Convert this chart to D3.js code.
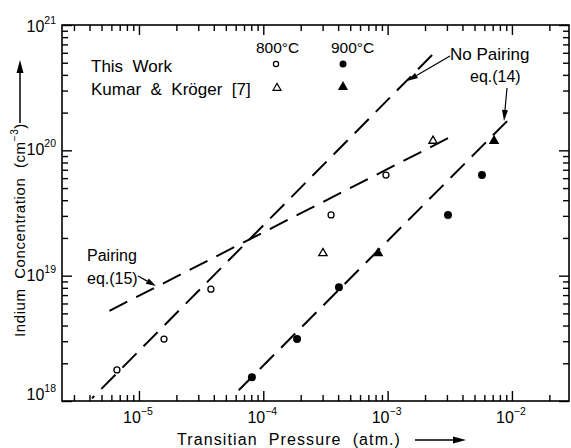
<!DOCTYPE html>
<html><head><meta charset="utf-8">
<script src="https://cdn.jsdelivr.net/npm/d3@7"></script>
<style>
html,body{margin:0;padding:0;background:#fff;}
svg{display:block;font-family:"Liberation Sans","DejaVu Sans",sans-serif;}
</style></head>
<body><svg id="c" width="571" height="448"></svg>
<script>
// ---- data (pressure atm, concentration cm^-3) ----
const thisWork800 = [[6.65e-6,1.77e18],[1.59e-5,3.12e18],[3.79e-5,7.8e18],[3.51e-4,3.05e19],[9.7e-4,6.35e19]];
const thisWork900 = [[8.1e-5,1.55e18],[1.87e-4,3.12e18],[4.06e-4,8.1e18],[3.06e-3,3.05e19],[5.74e-3,6.35e19]];
const kumar800 = [[3.02e-4,1.51e19],[2.32e-3,1.19e20]];
const kumar900 = [[8.38e-4,1.51e19],[7.18e-3,1.19e20]];
const noPairing800 = [[4.19e-6,1.05e18],[2.28e-3,5.76e20]];
const pairing800 = [[5.33e-6,5.03e18],[3.06e-3,1.25e20]];
const noPairing900 = [[6.03e-5,1.16e18],[9.14e-3,1.71e20]];
const xTickExps = [-5,-4,-3,-2];
const yTickExps = [18,19,20,21];
const xDomain = [Math.pow(10,-5.619), Math.pow(10,-1.541)];
const yDomain = [1e18, 1e21];

const svg = d3.select("#c");
const L=62, R=569, T=25, B=401;
const x = d3.scaleLog().domain(xDomain).range([L,R]);
const y = d3.scaleLog().domain(yDomain).range([B,T]);

function minors(domain, lo, hi){
  const out=[];
  for(let e=lo;e<=hi;e++) for(let m=2;m<=9;m++){const v=m*Math.pow(10,e); if(v>=domain[0]&&v<=domain[1]) out.push(v);}
  return out;
}
const xMaj = xTickExps.map(e=>Math.pow(10,e));
const yMaj = yTickExps.map(e=>Math.pow(10,e));
const xMin = minors(xDomain,-6,-2);
const yMin = minors(yDomain,18,20);

const ax = svg.append("g");
function addAxis(gen, vals, size, tr){
  const g = ax.append("g").attr("transform",tr)
    .call(gen.tickValues(vals).tickSize(-size).tickFormat(""));
  g.select(".domain").remove();
  g.selectAll("line").attr("stroke","#000").attr("stroke-width",1.4);
}
addAxis(d3.axisBottom(x), xMaj, 10, `translate(0,${B})`);
addAxis(d3.axisBottom(x), xMin, 6, `translate(0,${B})`);
addAxis(d3.axisTop(x), xMaj, 10, `translate(0,${T})`);
addAxis(d3.axisTop(x), xMin, 6, `translate(0,${T})`);
addAxis(d3.axisLeft(y), yMaj, 10, `translate(${L},0)`);
addAxis(d3.axisLeft(y), yMin, 6, `translate(${L},0)`);
addAxis(d3.axisRight(y), yMaj, 10, `translate(${R},0)`);
addAxis(d3.axisRight(y), yMin, 6, `translate(${R},0)`);

svg.append("rect").attr("x",L).attr("y",T).attr("width",R-L).attr("height",B-T)
  .attr("fill","none").attr("stroke","#000").attr("stroke-width",1.6);

// tick labels
xTickExps.forEach(e=>{
  const t = svg.append("text").attr("x",x(Math.pow(10,e))-1).attr("y",423)
    .attr("text-anchor","middle").attr("font-size",16);
  t.append("tspan").text("10");
  t.append("tspan").attr("font-size",10.5).attr("dy",-8).text("−"+(-e));
});
yTickExps.forEach(e=>{
  const t = svg.append("text").attr("x",56).attr("y",y(Math.pow(10,e))+ (e===18?-1:(e===21?7:5)))
    .attr("text-anchor","end").attr("font-size",16);
  t.append("tspan").text("10");
  t.append("tspan").attr("font-size",10.5).attr("dy",-8).text(e);
});

// axis titles
svg.append("text").attr("x",177).attr("y",445).attr("font-size",16)
  .attr("letter-spacing",1.1).attr("xml:space","preserve").text("Transitian  Pressure  (atm.)");
function arrow(x1,y1,x2,y2,hl,hw,sw){
  const g=svg.append("g");
  const a=Math.atan2(y2-y1,x2-x1);
  const bx=x2-hl*Math.cos(a), by=y2-hl*Math.sin(a);
  g.append("line").attr("x1",x1).attr("y1",y1).attr("x2",bx).attr("y2",by)
    .attr("stroke","#000").attr("stroke-width",sw);
  const px=-Math.sin(a)*hw/2, py=Math.cos(a)*hw/2;
  g.append("path").attr("d",`M${x2},${y2}L${bx+px},${by+py}L${bx-px},${by-py}Z`).attr("fill","#000");
  return g;
}
arrow(415,440,466,440,13,7,1.5);

const yt = svg.append("text").attr("transform","translate(25,337) rotate(-90)")
  .attr("font-size",15).attr("letter-spacing",0.6).attr("xml:space","preserve");
yt.append("tspan").text("Indium  Concentration  (cm");
yt.append("tspan").attr("font-size",10).attr("dy",-7).text("−3");
yt.append("tspan").attr("dy",7).text(")");
arrow(20,123,20,60,13,7,1.5);

// fitted lines (dash phase chosen so each line ends on a full dash)
const line = d3.line().x(d=>x(d[0])).y(d=>y(d[1]));
[noPairing800, pairing800, noPairing900].forEach(d=>{
  const p = svg.append("path").attr("d",line(d)).attr("fill","none").attr("stroke","#000")
    .attr("stroke-width",2).attr("stroke-dasharray","20,10");
  const len = p.node().getTotalLength();
  const off = (((20 - len) % 30) + 30) % 30;
  p.attr("stroke-dashoffset", off);
});

// markers
function circles(data, r, filled){
  svg.append("g").selectAll("circle").data(data).join("circle")
    .attr("cx",d=>x(d[0])).attr("cy",d=>y(d[1])).attr("r",r)
    .attr("fill",filled?"#000":"#fff").attr("stroke","#000").attr("stroke-width",filled?0:1.3);
}
function tris(data, size, filled){
  const s = d3.symbol().type(d3.symbolTriangle).size(size);
  svg.append("g").selectAll("path").data(data).join("path")
    .attr("transform",d=>`translate(${x(d[0])},${y(d[1])})`).attr("d",s)
    .attr("fill",filled?"#000":"#fff").attr("stroke","#000").attr("stroke-width",filled?0:1.3);
}
circles(thisWork800,3,false);
circles(thisWork900,4,true);
tris(kumar800,30,false);
tris(kumar900,48,true);

// legend
svg.append("text").attr("x",256).attr("y",53).attr("font-size",15.5).text("800°C");
svg.append("text").attr("x",331).attr("y",53).attr("font-size",15.5).text("900°C");
svg.append("text").attr("x",91).attr("y",72).attr("font-size",17).attr("xml:space","preserve").text("This  Work");
svg.append("text").attr("x",91).attr("y",95).attr("font-size",17).attr("xml:space","preserve").text("Kumar  &  Kröger  [7]");
svg.append("circle").attr("cx",276).attr("cy",64).attr("r",2.6).attr("fill","#fff").attr("stroke","#000").attr("stroke-width",1.2);
svg.append("circle").attr("cx",343).attr("cy",64).attr("r",3.5).attr("fill","#000");
svg.append("path").attr("transform","translate(277,88)").attr("d",d3.symbol().type(d3.symbolTriangle).size(28)()).attr("fill","#fff").attr("stroke","#000").attr("stroke-width",1.2);
svg.append("path").attr("transform","translate(343,87)").attr("d",d3.symbol().type(d3.symbolTriangle).size(45)()).attr("fill","#000");

// annotations
svg.append("text").attr("x",450).attr("y",60).attr("font-size",17).text("No Pairing");
svg.append("text").attr("x",470).attr("y",82).attr("font-size",16).text("eq.(14)");
arrow(450,56,407,81,11,6,1.2);
arrow(507,88,504,121,11,6,1.2);
svg.append("text").attr("x",87).attr("y",261).attr("font-size",16).text("Pairing");
svg.append("text").attr("x",87).attr("y",284).attr("font-size",16).text("eq.(15)");
arrow(138,276,156,286,10,6,1.2);
</script></body></html>
